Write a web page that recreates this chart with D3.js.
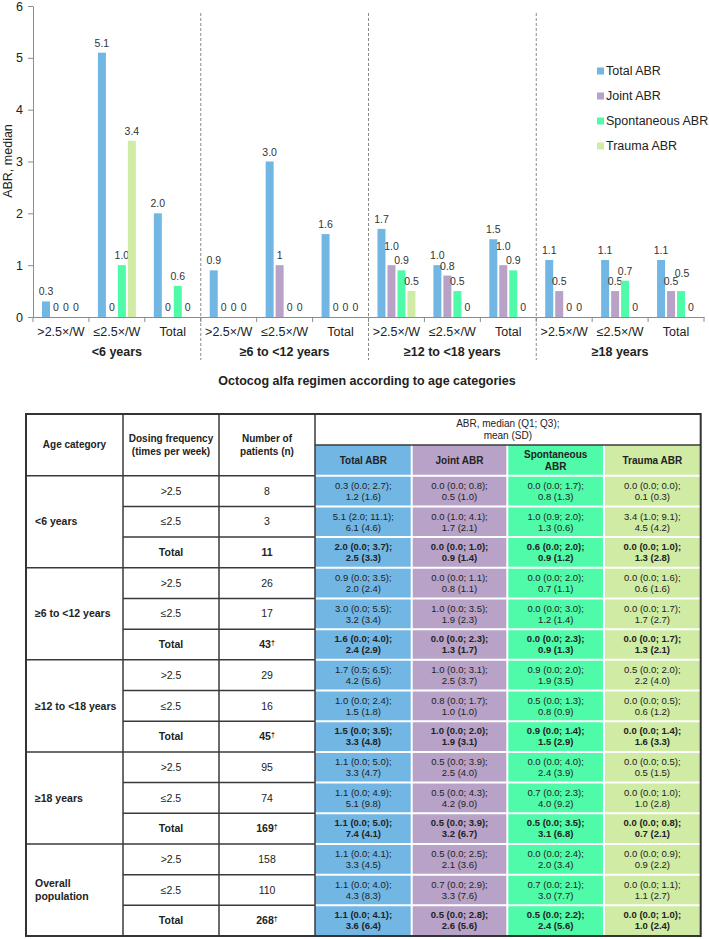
<!DOCTYPE html>
<html><head><meta charset="utf-8">
<script src="https://cdn.jsdelivr.net/npm/d3@7"></script>
<style>body{margin:0;background:#fff;} text{font-family:"Liberation Sans",Arial,sans-serif;}</style>
</head><body>
<script>
// ---------- chart data ----------
const ageGroups = ["<6 years", "≥6 to <12 years", "≥12 to <18 years", "≥18 years"];
const dosingLabels = [">2.5×/W", "≤2.5×/W", "Total"];
const seriesNames = ["Total ABR", "Joint ABR", "Spontaneous ABR", "Trauma ABR"];
const seriesColors = ["#72b6e4", "#b8a2c7", "#4ffaa8", "#cfeba4"];
const totalMedian  = [0.3, 5.1, 2.0, 0.9, 3.0, 1.6, 1.7, 1.0, 1.5, 1.1, 1.1, 1.1];
const jointMedian  = [0, 0, 0, 0, 1.0, 0, 1.0, 0.8, 1.0, 0.5, 0.5, 0.5];
const spontMedian  = [0, 1.0, 0.6, 0, 0, 0, 0.9, 0.5, 0.9, 0, 0.7, 0.5];
const traumaMedian = [0, 3.4, 0, 0, 0, 0, 0.5, 0, 0, 0, 0, 0];
const totalLabels  = ["0.3", "5.1", "2.0", "0.9", "3.0", "1.6", "1.7", "1.0", "1.5", "1.1", "1.1", "1.1"];
const jointLabels  = ["0", "0", "0", "0", "1", "0", "1.0", "0.8", "1.0", "0.5", "0.5", "0.5"];
const spontLabels  = ["0", "1.0", "0.6", "0", "0", "0", "0.9", "0.5", "0.9", "0", "0.7", "0.5"];
const traumaLabels = ["0", "3.4", "0", "0", "0", "0", "0.5", "0", "0", "0", "0", "0"];
const yTicks = [0, 1, 2, 3, 4, 5, 6];
const yTitle = "ABR, median";
const xTitle = "Octocog alfa regimen according to age categories";

// ---------- table data ----------
const tableAgeGroups = [["<6 years"], ["≥6 to <12 years"], ["≥12 to <18 years"], ["≥18 years"], ["Overall", "population"]];
const tableDosing = [">2.5", "≤2.5", "Total"];
const nPatients = ["8", "3", "11", "26", "17", "43†", "29", "16", "45†", "95", "74", "169†", "158", "110", "268†"];
const tableHeaderLeft = [["Age category"], ["Dosing frequency", "(times per week)"], ["Number of", "patients (n)"]];
const tableHeaderTop = ["ABR, median (Q1; Q3);", "mean (SD)"];
const tableHeaderCols = [["Total ABR"], ["Joint ABR"], ["Spontaneous", "ABR"], ["Trauma ABR"]];
const totalABR = [
  ["0.3 (0.0; 2.7);", "1.2 (1.6)"], ["5.1 (2.0; 11.1);", "6.1 (4.6)"], ["2.0 (0.0; 3.7);", "2.5 (3.3)"],
  ["0.9 (0.0; 3.5);", "2.0 (2.4)"], ["3.0 (0.0; 5.5);", "3.2 (3.4)"], ["1.6 (0.0; 4.0);", "2.4 (2.9)"],
  ["1.7 (0.5; 6.5);", "4.2 (5.6)"], ["1.0 (0.0; 2.4);", "1.5 (1.8)"], ["1.5 (0.0; 3.5);", "3.3 (4.8)"],
  ["1.1 (0.0; 5.0);", "3.3 (4.7)"], ["1.1 (0.0; 4.9);", "5.1 (9.8)"], ["1.1 (0.0; 5.0);", "7.4 (4.1)"],
  ["1.1 (0.0; 4.1);", "3.3 (4.5)"], ["1.1 (0.0; 4.0);", "4.3 (8.3)"], ["1.1 (0.0; 4.1);", "3.6 (6.4)"]];
const jointABR = [
  ["0.0 (0.0; 0.8);", "0.5 (1.0)"], ["0.0 (1.0; 4.1);", "1.7 (2.1)"], ["0.0 (0.0; 1.0);", "0.9 (1.4)"],
  ["0.0 (0.0; 1.1);", "0.8 (1.1)"], ["1.0 (0.0; 3.5);", "1.9 (2.3)"], ["0.0 (0.0; 2.3);", "1.3 (1.7)"],
  ["1.0 (0.0; 3.1);", "2.5 (3.7)"], ["0.8 (0.0; 1.7);", "1.0 (1.0)"], ["1.0 (0.0; 2.0);", "1.9 (3.1)"],
  ["0.5 (0.0; 3.9);", "2.5 (4.0)"], ["0.5 (0.0; 4.3);", "4.2 (9.0)"], ["0.5 (0.0; 3.9);", "3.2 (6.7)"],
  ["0.5 (0.0; 2.5);", "2.1 (3.6)"], ["0.7 (0.0; 2.9);", "3.3 (7.6)"], ["0.5 (0.0; 2.8);", "2.6 (5.6)"]];
const spontABR = [
  ["0.0 (0.0; 1.7);", "0.8 (1.3)"], ["1.0 (0.9; 2.0);", "1.3 (0.6)"], ["0.6 (0.0; 2.0);", "0.9 (1.2)"],
  ["0.0 (0.0; 2.0);", "0.7 (1.1)"], ["0.0  (0.0; 3.0);", "1.2 (1.4)"], ["0.0 (0.0; 2.3);", "0.9 (1.3)"],
  ["0.9 (0.0; 2.0);", "1.9 (3.5)"], ["0.5 (0.0; 1.3);", "0.8 (0.9)"], ["0.9 (0.0; 1.4);", "1.5 (2.9)"],
  ["0.0 (0.0; 4.0);", "2.4 (3.9)"], ["0.7 (0.0; 2.3);", "4.0 (9.2)"], ["0.5 (0.0; 3.5);", "3.1 (6.8)"],
  ["0.0 (0.0; 2.4);", "2.0 (3.4)"], ["0.7 (0.0; 2.1);", "3.0 (7.7)"], ["0.5 (0.0; 2.2);", "2.4 (5.6)"]];
const traumaABR = [
  ["0.0 (0.0; 0.0);", "0.1 (0.3)"], ["3.4 (1.0; 9.1);", "4.5 (4.2)"], ["0.0 (0.0; 1.0);", "1.3 (2.8)"],
  ["0.0 (0.0; 1.6);", "0.6 (1.6)"], ["0.0 (0.0; 1.7);", "1.7 (2.7)"], ["0.0 (0.0; 1.7);", "1.3 (2.1)"],
  ["0.5 (0.0; 2.0);", "2.2 (4.0)"], ["0.0 (0.0; 0.5);", "0.6 (1.2)"], ["0.0 (0.0; 1.4);", "1.6 (3.3)"],
  ["0.0 (0.0; 0.5);", "0.5 (1.5)"], ["0.0 (0.0; 1.0);", "1.0 (2.8)"], ["0.0 (0.0; 0.8);", "0.7 (2.1)"],
  ["0.0 (0.0; 0.9);", "0.9 (2.2)"], ["0.0 (0.0; 1.1);", "1.1 (2.7)"], ["0.0 (0.0; 1.0);", "1.0 (2.4)"]];

// ---------- build ----------
const W = 709, H = 939;
const svg = d3.select("body").append("svg").attr("width", W).attr("height", H);

const seriesValues = [totalMedian, jointMedian, spontMedian, traumaMedian];
const seriesLabels = [totalLabels, jointLabels, spontLabels, traumaLabels];
const series = seriesNames.map((n, i) => ({name: n, idx: i, color: seriesColors[i], values: seriesValues[i], labels: seriesLabels[i]}));

// label nudges (px, to avoid overlapping data labels, as in the original)
const labelNudge = {"1-6": [0, -9], "1-8": [0, -9], "2-11": [1, -8]};

const cats = [];
ageGroups.forEach((g, gi) => dosingLabels.forEach((d, di) => cats.push({id: gi + "-" + di, g: gi, d: di, label: d})));

const plotL = 33, plotR = 704, plotT = 6, plotB = 317;
const x0 = d3.scaleBand().domain(cats.map(c => c.id)).range([plotL, plotR]).padding(0);
const x1 = d3.scaleBand().domain(seriesNames).range([0, x0.bandwidth()]).paddingInner(0.2).paddingOuter(0.9);
const y = d3.scaleLinear().domain([0, 6]).range([plotB, plotT]);

const axisColor = "#8c8c8c";

// group separators (dashed)
const sepX = ageGroups.slice(1).map((g, i) => x0(cats[(i + 1) * 3].id));
svg.append("g").selectAll("line").data(sepX).join("line")
  .attr("x1", d => d).attr("x2", d => d).attr("y1", 13).attr("y2", 360)
  .attr("stroke", "#8a8a8a").attr("stroke-width", 1).attr("stroke-dasharray", "3,2");

// y axis
const yAxis = svg.append("g").attr("transform", `translate(${plotL},0)`)
  .call(d3.axisLeft(y).tickValues(yTicks).tickFormat(d3.format("d")).tickSize(5).tickSizeOuter(0).tickPadding(5));
yAxis.select(".domain").attr("stroke", axisColor);
yAxis.selectAll(".tick line").attr("stroke", axisColor);
yAxis.selectAll("text").attr("font-size", "12.5px").attr("fill", "#222")
  .style("font-family", '"Liberation Sans",Arial,sans-serif');

// x axis
const xAxis = svg.append("g").attr("transform", `translate(0,${plotB})`)
  .call(d3.axisBottom(x0).tickSize(0).tickSizeOuter(0).tickFormat(id => cats.find(c => c.id === id).label));
xAxis.select(".domain").attr("stroke", axisColor);
xAxis.selectAll("text").attr("y", 15).attr("dy", "0.35em").attr("font-size", "12.5px").attr("fill", "#222")
  .style("font-family", '"Liberation Sans",Arial,sans-serif');
const bounds = cats.map(c => x0(c.id)).concat([x0(cats[cats.length - 1].id) + x0.bandwidth()]);
svg.append("g").selectAll("line").data(bounds).join("line")
  .attr("x1", d => d).attr("x2", d => d).attr("y1", plotB).attr("y2", plotB + 5)
  .attr("stroke", axisColor);

// group labels
svg.append("g").selectAll("text").data(ageGroups).join("text")
  .attr("x", (g, i) => x0(cats[i * 3 + 1].id) + x0.bandwidth() / 2)
  .attr("y", 352).attr("dy", "0.35em").attr("text-anchor", "middle")
  .attr("font-size", "12.5px").attr("font-weight", "bold").attr("fill", "#222").text(d => d);

// x title
svg.append("text").attr("x", 367).attr("y", 381).attr("dy", "0.35em").attr("text-anchor", "middle")
  .attr("font-size", "12.5px").attr("font-weight", "bold").attr("fill", "#222").text(xTitle);
// y title
svg.append("text").attr("transform", "translate(8,161) rotate(-90)").attr("dy", "0.35em")
  .attr("text-anchor", "middle").attr("font-size", "12.5px").attr("fill", "#222").text(yTitle);

// bars
const barG = svg.append("g");
series.forEach(s => {
  const g = barG.append("g");
  g.selectAll("rect").data(cats).join("rect")
    .attr("x", (c) => x0(c.id) + x1(s.name))
    .attr("width", x1.bandwidth())
    .attr("y", (c, i) => y(s.values[i]))
    .attr("height", (c, i) => plotB - y(s.values[i]))
    .attr("fill", s.color);
  g.selectAll("text").data(cats).join("text")
    .attr("x", (c, i) => x0(c.id) + x1(s.name) + x1.bandwidth() / 2 + ((labelNudge[s.idx + "-" + i] || [0, 0])[0]))
    .attr("y", (c, i) => y(s.values[i]) - 6 + ((labelNudge[s.idx + "-" + i] || [0, 0])[1]))
    .attr("text-anchor", "middle").attr("font-size", "10.5px").attr("fill", "#333")
    .text((c, i) => s.labels[i]);
});

// legend
const leg = svg.append("g").attr("transform", "translate(597,71)");
const li = leg.selectAll("g").data(series).join("g").attr("transform", (d, i) => `translate(0,${i * 25})`);
li.append("rect").attr("x", 0).attr("y", -3.5).attr("width", 7).attr("height", 7).attr("fill", d => d.color);
li.append("text").attr("x", 9).attr("dy", "0.35em").attr("font-size", "12.5px").attr("fill", "#222").text(d => d.name);

// ---------- table ----------
const colX = [26, 123, 219, 315, 411.7, 507.3, 604, 700.7];
const tTop = 414, tH1 = 445, tH2 = 475.7, tBot = 936;
const nRows = nPatients.length;
const ry = d3.scaleLinear().domain([0, nRows]).range([tH2, tBot]);
const dark = "#3a3a3a";
const T = svg.append("g");
const tableCols = [totalABR, jointABR, spontABR, traumaABR];

// colored columns
T.selectAll("rect.col").data(tableCols).join("rect").attr("class", "col")
  .attr("x", (d, i) => colX[3 + i]).attr("y", tH1)
  .attr("width", (d, i) => colX[4 + i] - colX[3 + i]).attr("height", tBot - tH1)
  .attr("fill", (d, i) => seriesColors[i]);
// white separators
T.selectAll("line.wv").data([4, 5, 6]).join("line").attr("class", "wv")
  .attr("x1", d => colX[d]).attr("x2", d => colX[d]).attr("y1", tH1).attr("y2", tBot)
  .attr("stroke", "#fff").attr("stroke-width", 2);
T.selectAll("line.wh").data(d3.range(0, nRows)).join("line").attr("class", "wh")
  .attr("x1", colX[3]).attr("x2", colX[7]).attr("y1", d => ry(d)).attr("y2", d => ry(d))
  .attr("stroke", "#fff").attr("stroke-width", 2);
// dark lines
T.selectAll("line.dv").data([1, 2, 3]).join("line").attr("class", "dv")
  .attr("x1", d => colX[d]).attr("x2", d => colX[d]).attr("y1", tTop).attr("y2", tBot)
  .attr("stroke", dark).attr("stroke-width", 1.5);
T.append("line").attr("x1", colX[3]).attr("x2", colX[7]).attr("y1", tH1).attr("y2", tH1)
  .attr("stroke", dark).attr("stroke-width", 1.5);
T.selectAll("line.dh").data(d3.range(0, nRows)).join("line").attr("class", "dh")
  .attr("x1", d => d % 3 === 0 ? colX[0] : colX[1]).attr("x2", colX[3])
  .attr("y1", d => ry(d)).attr("y2", d => ry(d))
  .attr("stroke", dark).attr("stroke-width", 1.5);
T.append("rect").attr("x", colX[0]).attr("y", tTop).attr("width", colX[7] - colX[0]).attr("height", tBot - tTop)
  .attr("fill", "none").attr("stroke", "#333").attr("stroke-width", 2);

function multiline(g, lines, x, cy, lh, opts) {
  const t = g.append("text").attr("x", x).attr("text-anchor", opts.anchor || "middle")
    .attr("font-size", opts.size).attr("font-weight", opts.bold ? "bold" : "normal").attr("fill", "#222");
  const y0 = cy - (lines.length - 1) * lh / 2;
  lines.forEach((l, i) => t.append("tspan").attr("x", x).attr("y", y0 + i * lh).attr("dy", "0.35em").text(l));
  return t;
}

// headers
tableHeaderLeft.forEach((lines, i) => {
  multiline(T, lines, (colX[i] + colX[i + 1]) / 2, (tTop + tH2) / 2, 12.5, {size: "10px", bold: true});
});
multiline(T, tableHeaderTop, (colX[3] + colX[7]) / 2, (tTop + tH1) / 2, 11.5, {size: "10px", bold: false});
tableHeaderCols.forEach((lines, i) => {
  multiline(T, lines, (colX[3 + i] + colX[4 + i]) / 2, (tH1 + tH2) / 2, 11.5, {size: "10px", bold: true});
});

// age group column
tableAgeGroups.forEach((lines, gi) => {
  multiline(T, lines, 35, (ry(gi * 3) + ry(gi * 3 + 3)) / 2, 13, {size: "10.5px", bold: true, anchor: "start"});
});
// rows
d3.range(nRows).forEach(r => {
  const cy = (ry(r) + ry(r + 1)) / 2;
  const isTotal = r % 3 === 2;
  multiline(T, [tableDosing[r % 3]], (colX[1] + colX[2]) / 2, cy, 12, {size: "10.5px", bold: isTotal});
  const n = nPatients[r];
  const t = T.append("text").attr("x", (colX[2] + colX[3]) / 2).attr("y", cy).attr("dy", "0.35em")
    .attr("text-anchor", "middle").attr("font-size", "10.5px").attr("font-weight", isTotal ? "bold" : "normal").attr("fill", "#222");
  if (n.endsWith("†")) {
    t.append("tspan").text(n.slice(0, -1));
    t.append("tspan").attr("font-size", "7px").attr("dy", "-0.45em").text("†");
  } else t.text(n);
  tableCols.forEach((col, ci) => {
    multiline(T, col[r], (colX[3 + ci] + colX[4 + ci]) / 2, cy, 11, {size: "9.5px", bold: isTotal});
  });
});
</script>
</body></html>
